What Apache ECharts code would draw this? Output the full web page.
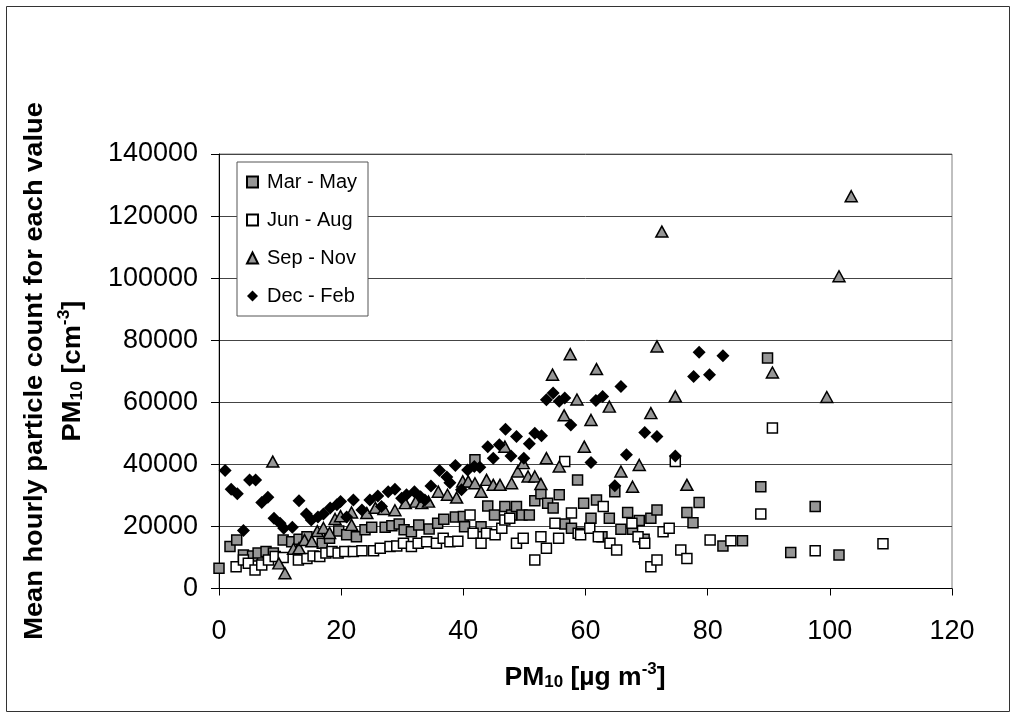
<!DOCTYPE html>
<html><head><meta charset="utf-8">
<script src="https://cdn.jsdelivr.net/npm/echarts@6/dist/echarts.min.js"></script>
<style>html,body{margin:0;padding:0;background:#fff}#c{width:1017px;height:719px}</style>
</head><body><div id="c"></div>
<script>
const seriesNames = ['Mar - May', 'Jun - Aug', 'Sep - Nov', 'Dec - Feb'];
const xTickValues = [0, 20, 40, 60, 80, 100, 120];
const yTickValues = [0, 20000, 40000, 60000, 80000, 100000, 120000, 140000];

const marMay = [[0,6500],[1.8,13500],[2.9,15600],[4,10800],[5.5,10500],[6.4,11400],[7.7,11900],[8.9,11400],[10.5,15600],[11.9,15100],[13.1,15900],[14.4,16700],[16.9,14600],[18.1,16200],[19.6,18500],[20.9,17300],[22.5,16700],[23.9,18900],[25,19700],[27.2,19700],[28.3,20200],[29.5,20800],[30.3,18900],[31.5,18300],[32.7,20500],[34.4,19200],[35.8,21000],[36.8,22300],[38.7,23000],[40,23200],[40.2,19900],[41.9,41500],[42.9,19900],[44,26600],[45.1,23700],[46.8,26400],[47.9,23700],[48.7,26400],[49.6,23700],[50.8,23700],[51.7,28300],[52.7,30500],[53.8,27500],[54.7,25900],[55.7,30200],[56.6,20800],[57.7,19400],[58.7,35000],[59.7,27500],[60.9,22600],[61.8,28500],[62.7,16700],[63.9,22600],[64.8,31200],[65.8,19100],[66.9,24500],[67.7,19100],[68.8,21900],[69.6,15900],[70.7,22600],[71.7,25300],[76.6,24500],[77.6,21200],[78.6,27700],[82.5,13700],[85.7,15400],[88.7,32800],[89.8,74300],[93.6,11600],[97.6,26400],[101.5,10800]];

const junAug = [[2.8,7000],[4,9200],[4.8,8100],[5.9,6000],[7,7600],[8.1,9200],[9.2,10300],[10.5,10000],[13,9200],[14.4,9700],[15.4,10500],[16.5,10300],[17.5,11400],[18.5,11900],[19.5,11400],[20.6,11900],[22,11900],[23.4,12200],[25.3,12200],[26.4,13000],[28,13500],[29.1,13700],[30.2,14600],[31.5,13500],[32.6,14600],[34,15100],[35.6,14600],[36.7,16200],[37.8,15100],[39.1,15200],[41.1,23700],[41.6,17800],[42.9,14600],[43.8,17800],[45.2,17300],[46.3,19400],[46.8,22100],[47.6,22600],[48.7,14600],[49.8,16200],[51.7,9200],[52.7,16700],[53.6,13000],[55,21000],[55.6,16200],[56.6,40900],[57.7,24300],[58.8,17800],[59.2,17300],[60.7,19400],[62.1,16700],[62.9,26400],[64,14600],[65.1,12400],[67.6,21000],[68.6,16700],[69.7,14600],[70.7,7000],[71.7,9200],[72.7,18300],[73.7,19400],[74.7,40900],[75.6,12400],[76.6,9700],[80.4,15600],[83.8,15400],[88.7,24000],[90.6,51700],[97.6,12200],[108.7,14400]];

const sepNov = [[8.8,40900],[9.8,8100],[10.8,4900],[12.2,12800],[13.1,13000],[14,15600],[15.2,15200],[16.1,18500],[17.1,19500],[18.1,17900],[19,22400],[19.9,23300],[21.7,20500],[21.7,24500],[24.2,24300],[25.6,26000],[27,25600],[28.8,25200],[30.5,27500],[32.2,28000],[33.2,27500],[34.3,28000],[35.9,31200],[37.4,30200],[38.9,29300],[39.9,34500],[40.8,34500],[41.9,33900],[42.9,31200],[43.8,35000],[44.9,33400],[46,33400],[46.8,45700],[47.9,33900],[48.9,37700],[49.8,40400],[50.6,36100],[51.7,36100],[52.7,33700],[53.6,42000],[54.6,68900],[55.7,39300],[56.5,55800],[57.5,75500],[58.6,60900],[59.8,45700],[60.9,54300],[61.8,70700],[63.9,58600],[65.8,37700],[67.7,32800],[68.8,39800],[70.7,56500],[71.7,78000],[72.5,115000],[74.7,61900],[76.6,33400],[90.6,69600],[99.5,61700],[101.5,100600],[103.5,126400]];

const decFeb = [[1,38000],[2,32000],[3,30500],[4,18700],[5,35000],[6,35000],[7,27700],[8,29400],[9,22600],[10,21000],[10.6,19400],[12,19700],[13.1,28300],[14.3,24000],[15.1,22100],[16.2,23000],[17.1,24000],[18.2,25900],[19.3,27000],[19.9,28000],[20.9,23000],[22,28500],[23.4,25300],[24.7,28500],[26,29800],[26.6,26400],[27.7,31200],[28.8,32000],[29.9,29100],[30.7,30200],[32,31200],[33,29600],[33.7,28500],[34.7,33000],[36.1,38000],[37.3,35900],[37.8,34100],[38.7,39600],[39.7,31800],[40.7,38200],[41.8,39300],[42.7,39100],[44,45700],[44.9,42000],[45.9,46300],[46.9,51300],[47.8,42700],[48.7,49000],[49.9,42000],[50.8,46600],[51.7,50000],[52.8,49200],[53.6,60800],[54.7,63000],[55.7,60300],[56.6,61400],[57.6,52700],[60.9,40600],[61.7,60600],[62.8,61900],[64.8,33100],[65.8,65100],[66.7,43100],[69.7,50300],[71.7,49000],[74.7,42700],[77.7,68300],[78.6,76100],[80.3,68900],[82.5,75000]];

const FONT = '"Liberation Sans", Arial, sans-serif';
const chart = echarts.init(document.getElementById('c'), null, {renderer: 'canvas'});

const titleRich = {
  b: {fontFamily: FONT, fontWeight: 'bold', fontSize: 25, lineHeight: 29, verticalAlign: 'bottom', color: '#000'},
  sub: {fontFamily: FONT, fontWeight: 'bold', fontSize: 16, lineHeight: 14, verticalAlign: 'bottom', color: '#000'},
  sup: {fontFamily: FONT, fontWeight: 'bold', fontSize: 16, lineHeight: 15, verticalAlign: 'top', color: '#000'}
};

const option = {
  animation: false,
  backgroundColor: '#fff',
  textStyle: {fontFamily: FONT},
  grid: {left: 219, right: 65, top: 154, bottom: 130.5, show: true, borderColor: '#808080', borderWidth: 1, backgroundColor: 'transparent'},
  legend: {
    orient: 'vertical', left: 237, top: 162,
    padding: [10, 11, 10, 9], itemGap: 18, itemWidth: 11, itemHeight: 11,
    backgroundColor: '#fff', borderColor: '#555', borderWidth: 1,
    selectedMode: false,
    textStyle: {fontFamily: FONT, fontSize: 20, color: '#000', padding: [0, 0, 0, 4]},
    data: seriesNames
  },
  xAxis: {
    type: 'value', min: xTickValues[0], max: xTickValues[xTickValues.length - 1], interval: 20,
    axisLine: {show: true, onZero: false, lineStyle: {color: '#000', width: 1}},
    axisTick: {show: true, length: 7, lineStyle: {color: '#000'}},
    axisLabel: {fontFamily: FONT, fontSize: 27, color: '#000', margin: 30},
    splitLine: {show: false}
  },
  yAxis: {
    type: 'value', min: yTickValues[0], max: yTickValues[yTickValues.length - 1], interval: 20000,
    axisLine: {show: true, onZero: false, lineStyle: {color: '#000', width: 1}},
    axisTick: {show: true, length: 8, lineStyle: {color: '#000'}},
    axisLabel: {fontFamily: FONT, fontSize: 27, color: '#000', margin: 21, formatter: v => String(v)},
    splitLine: {show: true, lineStyle: {color: '#444', width: 1}}
  },
  graphic: [
    {type: 'rect', shape: {x: 6.5, y: 6.5, width: 1003, height: 705}, style: {fill: 'none', stroke: '#333', lineWidth: 1}, silent: true, z: -1},
    {type: 'text', x: 585, y: 676, scaleX: 1.06, silent: true,
      style: {text: '{b|PM}{sub|10}{b| [µg m}{sup|-3}{b|]}', rich: titleRich, align: 'center', verticalAlign: 'middle'}},
    {type: 'text', x: 33, y: 371, rotation: Math.PI / 2, scaleX: 1.09, silent: true,
      style: {text: '{b|Mean hourly particle count for each value}', rich: titleRich, align: 'center', verticalAlign: 'middle'}},
    {type: 'text', x: 71, y: 371, rotation: Math.PI / 2, scaleX: 1.09, silent: true,
      style: {text: '{b|PM}{sub|10}{b| [cm}{sup|-3}{b|]}', rich: titleRich, align: 'center', verticalAlign: 'middle'}}
  ],
  series: [
    {name: seriesNames[0], type: 'scatter', data: marMay, symbol: 'rect', symbolSize: 10, silent: true,
      itemStyle: {color: '#969696', borderColor: '#000', borderWidth: 1.5, opacity: 1}},
    {name: seriesNames[1], type: 'scatter', data: junAug, symbol: 'rect', symbolSize: 10, silent: true,
      itemStyle: {color: '#fff', borderColor: '#000', borderWidth: 1.5, opacity: 1}},
    {name: seriesNames[2], type: 'scatter', data: sepNov, symbol: 'triangle', symbolSize: [12, 11], silent: true,
      itemStyle: {color: '#969696', borderColor: '#000', borderWidth: 1.5, opacity: 1}},
    {name: seriesNames[3], type: 'scatter', data: decFeb, symbol: 'diamond', symbolSize: 13, silent: true,
      itemStyle: {color: '#000', borderColor: '#000', borderWidth: 0, opacity: 1}}
  ]
};
chart.setOption(option);
</script>
</body></html>
